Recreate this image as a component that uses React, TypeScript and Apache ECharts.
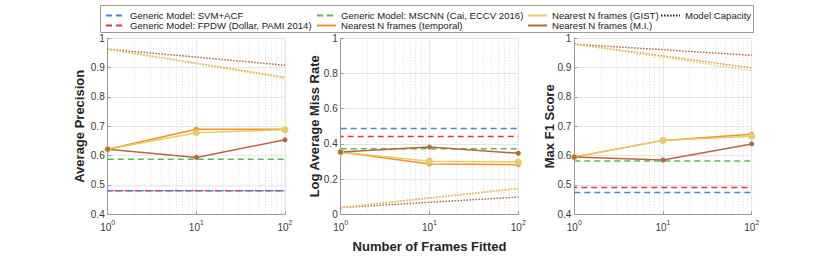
import React, { useEffect, useRef } from "react";
import * as echarts from "echarts";

// ---- data ----
const frames = [1, 10, 100];
const minorX = [2, 3, 4, 5, 6, 7, 8, 9, 20, 30, 40, 50, 60, 70, 80, 90];

// Average Precision
const apSvm = 0.48;
const apFpdw = 0.48;
const apMscnn = 0.588;
const apTemporal = [0.622, 0.69, 0.69];
const apGist = [0.622, 0.678, 0.688];
const apMi = [0.622, 0.594, 0.654];
const apCapTemporal = [0.963, 0.915, 0.867];
const apCapGist = [0.963, 0.913, 0.864];
const apCapMi = [0.963, 0.936, 0.908];

// Log Average Miss Rate
const lamrSvm = 0.487;
const lamrFpdw = 0.442;
const lamrMscnn = 0.373;
const lamrTemporal = [0.354, 0.286, 0.282];
const lamrGist = [0.354, 0.302, 0.298];
const lamrMi = [0.354, 0.382, 0.347];
const lamrCapTemporal = [0.038, 0.093, 0.147];
const lamrCapGist = [0.038, 0.091, 0.144];
const lamrCapMi = [0.038, 0.068, 0.098];

// Max F1 Score
const f1Svm = 0.474;
const f1Fpdw = 0.491;
const f1Mscnn = 0.582;
const f1Temporal = [0.595, 0.652, 0.673];
const f1Gist = [0.595, 0.652, 0.666];
const f1Mi = [0.595, 0.585, 0.64];
const f1CapTemporal = [0.98, 0.94, 0.899];
const f1CapGist = [0.98, 0.936, 0.889];
const f1CapMi = [0.98, 0.961, 0.942];

const yNames = ["Average Precision", "Log Average Miss Rate", "Max F1 Score"];
const xName = "Number of Frames Fitted";

const NAMES = {
  svm: "Generic Model: SVM+ACF",
  fpdw: "Generic Model: FPDW (Dollar, PAMI 2014)",
  mscnn: "Generic Model: MSCNN (Cai, ECCV 2016)",
  temporal: "Nearest N frames (temporal)",
  gist: "Nearest N frames (GIST)",
  mi: "Nearest N frames (M.I.)",
  cap: "Model Capacity",
};

const C = {
  svm: "#4a86c8",
  fpdw: "#e0383c",
  mscnn: "#5db85a",
  temporal: "#f7901e",
  gist: "#e8cb6b",
  mi: "#b5683f",
  cap: "#222222",
};

const FONT = "Liberation Sans";

export default function App() {
  const ref = useRef<HTMLDivElement>(null);

  useEffect(() => {
    if (!ref.current) return;
    const chart = echarts.init(ref.current, undefined, { renderer: "svg" });

    const grids = [
      { left: 107.7, top: 38.3, width: 177.3, height: 176 },
      { left: 340.7, top: 38.3, width: 177.6, height: 176 },
      { left: 574.3, top: 38.3, width: 177.4, height: 176 },
    ];
    const yRanges = [
      { min: 0.4, max: 1, interval: 0.1, gap: 22 },
      { min: 0, max: 1, interval: 0.2, gap: 20 },
      { min: 0.4, max: 1, interval: 0.1, gap: 18.5 },
    ];

    const plots = [
      {
        svm: apSvm, fpdw: apFpdw, mscnn: apMscnn,
        temporal: apTemporal, gist: apGist, mi: apMi,
        capT: apCapTemporal, capG: apCapGist, capM: apCapMi,
      },
      {
        svm: lamrSvm, fpdw: lamrFpdw, mscnn: lamrMscnn,
        temporal: lamrTemporal, gist: lamrGist, mi: lamrMi,
        capT: lamrCapTemporal, capG: lamrCapGist, capM: lamrCapMi,
      },
      {
        svm: f1Svm, fpdw: f1Fpdw, mscnn: f1Mscnn,
        temporal: f1Temporal, gist: f1Gist, mi: f1Mi,
        capT: f1CapTemporal, capG: f1CapGist, capM: f1CapMi,
      },
    ];

    const xAxes = grids.map((_, i) => ({
      type: "log",
      logBase: 10,
      gridIndex: i,
      min: 1,
      max: 100,
      name: i === 1 ? xName : "",
      nameLocation: "middle",
      nameGap: 26,
      nameMoveOverlap: false,
      nameTextStyle: { fontSize: 13, fontWeight: "bold", color: "#262626", fontFamily: FONT },
      axisLine: { show: true, lineStyle: { color: "#9a9a9a", width: 1 } },
      axisTick: { show: true, inside: true, length: 3, lineStyle: { color: "#9a9a9a" } },
      splitLine: { show: true, lineStyle: { color: "#e6e6e6", width: 1 } },
      axisLabel: {
        margin: 5,
        color: "#3a3a3a",
        formatter: (v: number) => "{b|10}{s|" + Math.round(Math.log10(v)) + "}",
        rich: {
          b: { fontSize: 10, lineHeight: 13, verticalAlign: "bottom", fontFamily: FONT, color: "#3a3a3a" },
          s: { fontSize: 7, lineHeight: 8, verticalAlign: "top", fontFamily: FONT, color: "#3a3a3a" },
        },
      },
    }));

    const yAxes = grids.map((_, i) => ({
      type: "value",
      gridIndex: i,
      min: yRanges[i].min,
      max: yRanges[i].max,
      interval: yRanges[i].interval,
      name: yNames[i],
      nameLocation: "middle",
      nameRotate: 90,
      nameGap: yRanges[i].gap,
      nameMoveOverlap: false,
      nameTextStyle: { fontSize: 13, fontWeight: "bold", color: "#262626", fontFamily: FONT },
      axisLine: { show: true, lineStyle: { color: "#9a9a9a", width: 1 } },
      axisTick: { show: true, inside: true, length: 3, lineStyle: { color: "#9a9a9a" } },
      splitLine: { show: true, lineStyle: { color: "#e6e6e6", width: 1 } },
      axisLabel: {
        margin: 3,
        fontSize: 10,
        color: "#3a3a3a",
        fontFamily: FONT,
        formatter: (v: number) => (Math.abs(v - 1) < 1e-9 ? "1" : Math.abs(v) < 1e-9 ? "0" : v.toFixed(1)),
      },
    }));

    const series: any[] = [];

    // dummy series for legend
    const legendDefs = [
      { key: "svm", type: [6, 4] },
      { key: "fpdw", type: [6, 4] },
      { key: "mscnn", type: [6, 4] },
      { key: "temporal", type: "solid" },
      { key: "gist", type: "solid" },
      { key: "mi", type: "solid" },
      { key: "cap", type: [1.5, 1.5] },
    ];
    legendDefs.forEach((d) => {
      series.push({
        type: "line",
        name: (NAMES as any)[d.key],
        xAxisIndex: 0,
        yAxisIndex: 0,
        data: [],
        symbol: "none",
        color: (C as any)[d.key],
        lineStyle: { color: (C as any)[d.key], width: 1.5, type: d.type },
      });
    });

    plots.forEach((p, i) => {
      const flat = (key: string, v: number, offset = 0, withMinor = false) => {
        const s: any = {
          type: "line",
          name: key + "_" + i,
          xAxisIndex: i,
          yAxisIndex: i,
          data: [[frames[0], v], [frames[frames.length - 1], v]],
          symbol: "none",
          silent: true,
          z: 3,
          lineStyle: { color: (C as any)[key], width: 1.5, type: [6, 4], dashOffset: offset },
        };
        if (withMinor) {
          s.markLine = {
            silent: true,
            symbol: "none",
            label: { show: false },
            z: 1,
            lineStyle: { color: "#dcdcdc", width: 1, type: [1, 2] },
            data: minorX.map((x) => ({ xAxis: x })),
          };
        }
        return s;
      };
      const cap = (key: string, vals: number[]) => ({
        type: "line",
        name: "cap_" + key + "_" + i,
        xAxisIndex: i,
        yAxisIndex: i,
        data: frames.map((f, k) => [f, vals[k]]),
        symbol: "none",
        silent: true,
        z: 3,
        lineStyle: { color: (C as any)[key], width: 1.5, type: [1.5, 1.5] },
      });
      const solid = (key: string, vals: number[], size: number) => ({
        type: "line",
        name: key + "_" + i,
        xAxisIndex: i,
        yAxisIndex: i,
        data: frames.map((f, k) => [f, vals[k]]),
        symbol: "circle",
        symbolSize: size,
        showSymbol: true,
        silent: true,
        z: 4,
        itemStyle: { color: (C as any)[key] },
        lineStyle: { color: (C as any)[key], width: 1.5, type: "solid" },
      });

      series.push(flat("fpdw", p.fpdw, 3, true));
      series.push(flat("svm", p.svm));
      series.push(flat("mscnn", p.mscnn));
      series.push(cap("mi", p.capM));
      series.push(cap("temporal", p.capT));
      series.push(cap("gist", p.capG));
      series.push(solid("temporal", p.temporal, 5));
      series.push(solid("gist", p.gist, 7));
      series.push(solid("mi", p.mi, 5));
    });

    const legendBase = {
      orient: "vertical",
      top: 10.5,
      padding: 0,
      itemWidth: 19,
      itemHeight: 10,
      itemGap: 0,
      selectedMode: false,
      itemStyle: { opacity: 0, borderWidth: 0 },
      textStyle: { fontSize: 9.6, lineHeight: 10, color: "#222", fontFamily: FONT, padding: [0, 0, 0, 0] },
    };

    const option: any = {
      animation: false,
      textStyle: { fontFamily: FONT },
      grid: grids.map((g) => ({ ...g, show: true, borderColor: "#ececec", borderWidth: 1, backgroundColor: "transparent" })),
      xAxis: xAxes,
      yAxis: yAxes,
      legend: [
        { ...legendBase, left: 105, data: [NAMES.svm, NAMES.fpdw] },
        { ...legendBase, left: 316, data: [NAMES.mscnn, NAMES.temporal] },
        { ...legendBase, left: 527, data: [NAMES.gist, NAMES.mi] },
        { ...legendBase, left: 660, data: [NAMES.cap] },
      ],
      graphic: [
        {
          type: "rect",
          z: 0,
          shape: { x: 100.5, y: 5.5, width: 653, height: 27 },
          style: { fill: "#ffffff", stroke: "#9a9a9a", lineWidth: 1 },
        },
      ],
      series,
    };

    chart.setOption(option);
    return () => chart.dispose();
  }, []);

  return (
    <div
      ref={ref}
      style={{ position: "fixed", left: 0, top: 0, width: 830, height: 263, background: "#ffffff" }}
    />
  );
}
